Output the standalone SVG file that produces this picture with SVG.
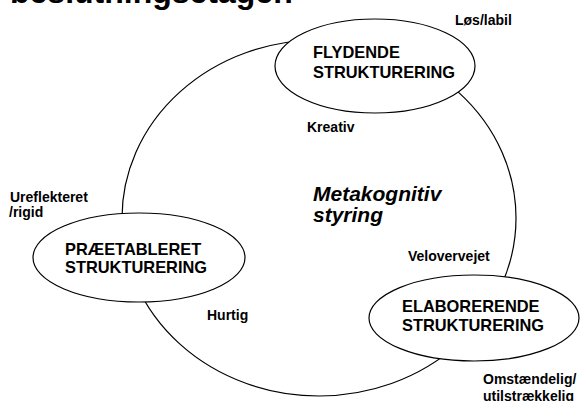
<svg xmlns="http://www.w3.org/2000/svg" width="580" height="401" viewBox="0 0 580 401">
<style>
text{font-family:"Liberation Sans",Arial,sans-serif;font-weight:bold;fill:#000}
.node{font-size:16.4px}
.lbl{font-size:14px}
.shape{fill:#fff;stroke:#000;stroke-width:1.2}
</style>
<rect width="580" height="401" fill="#fff"/>
<text id="title" x="10" y="3" style="font-size:32px">beslutningsetagen</text>
<g id="connectors">
<ellipse cx="319" cy="218" rx="197" ry="178" fill="none" stroke="#000" stroke-width="1.2"/>
</g>
<g id="center">
<text x="313" y="201" style="font-size:21px;font-style:italic">Metakognitiv</text>
<text x="313" y="222" style="font-size:21px;font-style:italic">styring</text>
</g>
<g id="flydende">
<ellipse class="shape" cx="375" cy="66" rx="100" ry="47"/>
<text class="node" x="313" y="58">FLYDENDE</text>
<text class="node" x="313" y="78">STRUKTURERING</text>
</g>
<g id="praeetableret">
<ellipse class="shape" cx="139" cy="257.5" rx="106" ry="44.5"/>
<text class="node" x="65" y="255">PRÆETABLERET</text>
<text class="node" x="65" y="273">STRUKTURERING</text>
</g>
<g id="elaborerende">
<ellipse class="shape" cx="474" cy="318" rx="105" ry="43"/>
<text class="node" x="402" y="312">ELABORERENDE</text>
<text class="node" x="402" y="331">STRUKTURERING</text>
</g>
<g id="labels">
<text class="lbl" x="455" y="25">Løs/labil</text>
<text class="lbl" x="307" y="132">Kreativ</text>
<text class="lbl" x="10" y="202">Ureflekteret</text>
<text class="lbl" x="9" y="217">/rigid</text>
<text class="lbl" x="207" y="320">Hurtig</text>
<text class="lbl" x="408" y="261">Velovervejet</text>
<text class="lbl" x="483" y="384">Omstændelig/</text>
<text class="lbl" x="483" y="401">utilstrækkelig</text>
</g>
</svg>
